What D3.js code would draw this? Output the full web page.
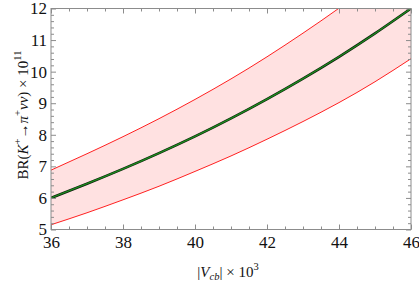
<!DOCTYPE html>
<html><head><meta charset="utf-8">
<script src="https://cdn.jsdelivr.net/npm/d3@7"></script>
<style>body{margin:0;background:#fff}svg{display:block}text{font-family:"Liberation Serif","DejaVu Serif",serif}</style>
</head><body><svg id="c" width="419" height="281"></svg>
<script>
const vcb = [36,37,38,39,40,41,42,43,44,45,46];
const central = [6.0,6.45,6.92,7.42,7.95,8.52,9.13,9.78,10.47,11.21,12.0];
const upper = [6.88,7.40,7.94,8.51,9.12,9.77,10.47,11.22,12.01,12.86,13.76];
const lower = [5.15,5.53,5.94,6.37,6.84,7.33,7.86,8.42,9.02,9.68,10.41];
const xTicks = [36,38,40,42,44,46];
const yTicks = [5,6,7,8,9,10,11,12];

const svg = d3.select("#c");
const L=51,R=411,T=8.5,B=229.5;
const x = d3.scaleLinear().domain([36,46]).range([L,R]);
const y = d3.scaleLinear().domain([5,12]).range([B,T]);

const defs = svg.append("defs");
defs.append("clipPath").attr("id","clip").append("rect").attr("x",L).attr("y",T).attr("width",R-L).attr("height",B-T);
const g = svg.append("g").attr("clip-path","url(#clip)");
const pts = vcb.map((v,i)=>({v,c:central[i],u:upper[i],l:lower[i]}));
g.append("path").datum(pts).attr("fill","#ffe1e1")
  .attr("d",d3.area().x(d=>x(d.v)).y0(d=>y(d.l)).y1(d=>y(d.u)).curve(d3.curveNatural));
const line = k=>d3.line().x(d=>x(d.v)).y(d=>y(d[k])).curve(d3.curveNatural);
g.append("path").datum(pts).attr("fill","none").attr("stroke","#ff2020").attr("stroke-width",1).attr("d",line("u"));
g.append("path").datum(pts).attr("fill","none").attr("stroke","#ff2020").attr("stroke-width",1).attr("d",line("l"));
g.append("path").datum(pts).attr("fill","none").attr("stroke","#0d1f0d").attr("stroke-width",2.6).attr("d",line("c"));
g.append("path").datum(pts).attr("fill","none").attr("stroke","#1e8a1e").attr("stroke-width",1.3).attr("d",line("c"));

const frameCol="#8c8c8c";
function minor(lo,hi,step){const a=[];for(let v=lo;v<=hi+1e-9;v+=step)a.push(+v.toFixed(3));return a;}
const xMinor = minor(36,46,0.5).filter(v=>!xTicks.includes(v));
const yMinor = minor(5,12,0.2).filter(v=>!yTicks.includes(Math.round(v*1000)/1000));

function styleAxis(sel){sel.select(".domain").remove();sel.selectAll("line").attr("stroke",frameCol);}
// bottom
const xb = svg.append("g").attr("transform",`translate(0,${B})`).call(d3.axisBottom(x).tickValues(xTicks).tickFormat(d3.format("d")).tickSizeInner(-5).tickSizeOuter(0).tickPadding(6.5));
styleAxis(xb);
xb.selectAll("text").attr("font-size",17).attr("fill","#111").attr("font-family","Liberation Serif");
svg.append("g").attr("transform",`translate(0,${B})`).call(d3.axisBottom(x).tickValues(xMinor).tickSizeInner(-3).tickSizeOuter(0).tickFormat("")).call(styleAxis);
// top
svg.append("g").attr("transform",`translate(0,${T})`).call(d3.axisTop(x).tickValues(xTicks).tickSizeInner(-5).tickSizeOuter(0).tickFormat("")).call(styleAxis);
svg.append("g").attr("transform",`translate(0,${T})`).call(d3.axisTop(x).tickValues(xMinor).tickSizeInner(-3).tickSizeOuter(0).tickFormat("")).call(styleAxis);
// left
const yl = svg.append("g").attr("transform",`translate(${L},0)`).call(d3.axisLeft(y).tickValues(yTicks).tickFormat(d3.format("d")).tickSizeInner(-5).tickSizeOuter(0).tickPadding(4));
styleAxis(yl);
yl.selectAll("text").attr("font-size",17).attr("fill","#111").attr("font-family","Liberation Serif");
svg.append("g").attr("transform",`translate(${L},0)`).call(d3.axisLeft(y).tickValues(yMinor).tickSizeInner(-3).tickSizeOuter(0).tickFormat("")).call(styleAxis);
// right
svg.append("g").attr("transform",`translate(${R},0)`).call(d3.axisRight(y).tickValues(yTicks).tickSizeInner(-5).tickSizeOuter(0).tickFormat("")).call(styleAxis);
svg.append("g").attr("transform",`translate(${R},0)`).call(d3.axisRight(y).tickValues(yMinor).tickSizeInner(-3).tickSizeOuter(0).tickFormat("")).call(styleAxis);

svg.append("rect").attr("x",L).attr("y",T).attr("width",R-L).attr("height",B-T).attr("fill","none").attr("stroke",frameCol).attr("stroke-width",1);

// x label
const xl = svg.append("text").attr("x",228).attr("y",277).attr("text-anchor","middle").attr("font-size",15).attr("fill","#111");
xl.append("tspan").text("|");
xl.append("tspan").attr("font-style","italic").text("V");
xl.append("tspan").attr("font-style","italic").attr("font-size",10.5).attr("dy",3).text("cb");
xl.append("tspan").attr("dy",-3).text("| × 10");
xl.append("tspan").attr("font-size",10.5).attr("dy",-7).text("3");

// y label
const ylab = svg.append("text").attr("transform","translate(28,115) rotate(-90)").attr("text-anchor","middle").attr("font-size",15).attr("fill","#111");
ylab.append("tspan").text("BR(");
ylab.append("tspan").attr("font-style","italic").text("K");
ylab.append("tspan").attr("font-size",10.5).attr("dy",-7).text("+");
ylab.append("tspan").attr("dy",7).text("→");
ylab.append("tspan").attr("font-style","italic").text("π");
ylab.append("tspan").attr("font-size",10.5).attr("dy",-7).text("+");
ylab.append("tspan").attr("dy",7).attr("font-style","italic").text("νν");
ylab.append("tspan").text(") × 10");
ylab.append("tspan").attr("font-size",10.5).attr("dy",-7).text("11");
</script></body></html>
